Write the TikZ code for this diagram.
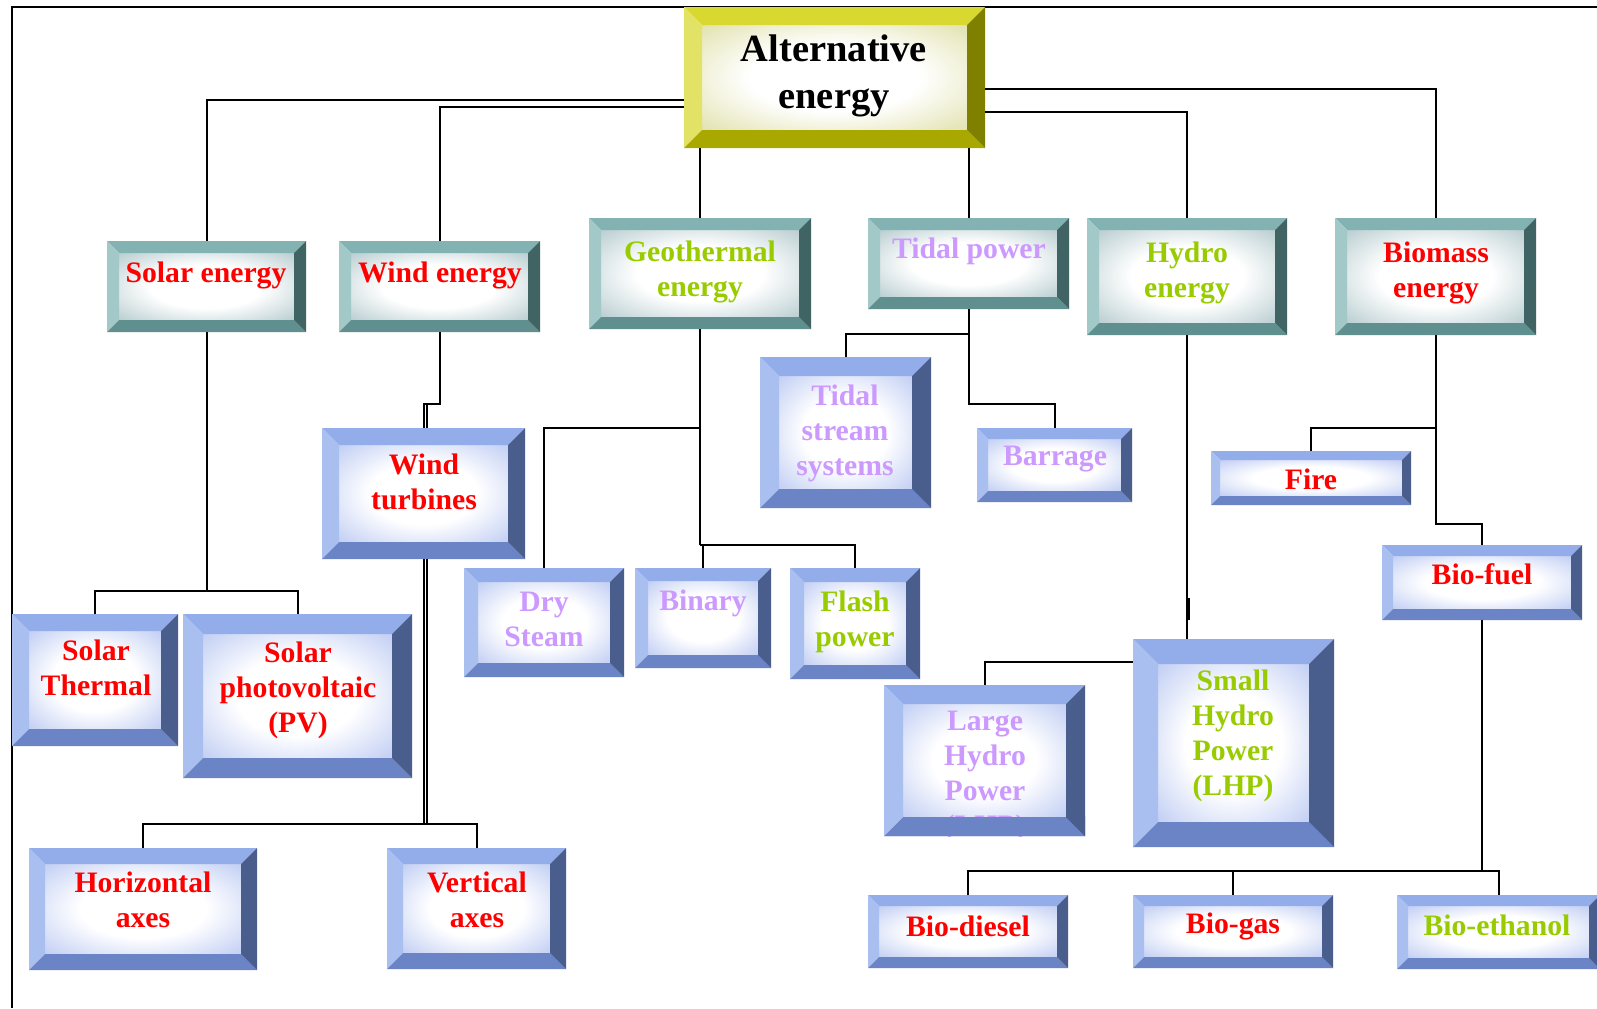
\documentclass[tikz,border=0pt]{standalone}
\usepackage{fontspec}
\setmainfont{Liberation Serif}
\usetikzlibrary{fit,calc}

\definecolor{bTop}{HTML}{93ADEB}
\definecolor{bLeft}{HTML}{A9BFF0}
\definecolor{bBot}{HTML}{6A84C6}
\definecolor{bRight}{HTML}{4A5E8E}
\definecolor{bIn}{HTML}{A0B4EE}
\definecolor{tTop}{HTML}{82B2B2}
\definecolor{tLeft}{HTML}{A3C8C8}
\definecolor{tBot}{HTML}{5F8F8F}
\definecolor{tRight}{HTML}{406464}
\definecolor{tIn}{HTML}{94B3B8}
\definecolor{yTop}{HTML}{D8D830}
\definecolor{yLeft}{HTML}{E2E266}
\definecolor{yBot}{HTML}{A8A800}
\definecolor{yRight}{HTML}{808000}
\definecolor{yIn}{HTML}{D2D284}
\definecolor{txtred}{HTML}{FF0000}
\definecolor{txtlilac}{HTML}{CC99FF}
\definecolor{txtgreen}{HTML}{99CC00}
\colorlet{bevin}{bIn}

\pgfdeclareradialshading[bevin]{softrad}{\pgfpoint{0bp}{0bp}}{color(0bp)=(white); color(16bp)=(white); color(46bp)=(bevin); color(60bp)=(bevin)}

\newcommand\bevpic[5]{%
  \colorlet{bevin}{#5}%
  \coordinate (q1) at (path picture bounding box.north west);
  \coordinate (q2) at (path picture bounding box.north east);
  \coordinate (q3) at (path picture bounding box.south east);
  \coordinate (q4) at (path picture bounding box.south west);
  \coordinate (r1) at ([shift={(\bevw,-\bevw)}]q1);
  \coordinate (r2) at ([shift={(-\bevw,-\bevw)}]q2);
  \coordinate (r3) at ([shift={(-\bevw,\bevw)}]q3);
  \coordinate (r4) at ([shift={(\bevw,\bevw)}]q4);
  \shade[shading=softrad] (r1) rectangle (r3);
  \fill[#1] (q1) -- (q2) -- (r2) -- (r1) -- cycle;
  \fill[#2] (q1) -- (r1) -- (r4) -- (q4) -- cycle;
  \fill[#3] (q4) -- (r4) -- (r3) -- (q3) -- cycle;
  \fill[#4] (q2) -- (q3) -- (r3) -- (r2) -- cycle;
}

\tikzset{
  bevw/.store in=\bevw, bevw=6pt,
  boxbase/.style={inner sep=0pt, outer sep=0pt, fill=white},
  bbox/.style={boxbase, path picture={\bevpic{bTop}{bLeft}{bBot}{bRight}{bIn}}},
  tbox/.style={boxbase, path picture={\bevpic{tTop}{tLeft}{tBot}{tRight}{tIn}}},
  ybox/.style={boxbase, path picture={\bevpic{yTop}{yLeft}{yBot}{yRight}{yIn}}},
  txt/.style={font=\fontsize{14.85}{17.5}\selectfont\bfseries, align=center, inner sep=0pt},
  conn/.style={line width=1pt, black},
}

\begin{document}
\begin{tikzpicture}[x=0.5pt, y=-0.5pt]
\useasboundingbox (0,0) rectangle (1597,1008);
\fill[white] (0,0) rectangle (1597,1008);

% frame
\draw[line width=1pt] (12,1008) -- (12,7) -- (1597,7);

% boxes
\node[ybox, bevw=9pt, fit={(684,7) (985,148)}] (alt) {};
\node[tbox, bevw=6pt, fit={(107,241) (306,332)}] (solar) {};
\node[tbox, bevw=6pt, fit={(339,241) (540,332)}] (wind) {};
\node[tbox, bevw=6pt, fit={(589,218) (811,329)}] (geo) {};
\node[tbox, bevw=6pt, fit={(868,218) (1069,309)}] (tidal) {};
\node[tbox, bevw=6pt, fit={(1087,218) (1287,335)}] (hydro) {};
\node[tbox, bevw=6pt, fit={(1335,218) (1536,335)}] (bio) {};

\node[bbox, bevw=8.5pt, fit={(322,428) (525,559)}] (wt) {};
\node[bbox, bevw=9.5pt, fit={(760,357) (931,508)}] (tss) {};
\node[bbox, bevw=5.5pt, fit={(977,428) (1132,502)}] (bar) {};
\node[bbox, bevw=4.5pt, fit={(1211,451) (1411,505)}] (fire) {};
\node[bbox, bevw=5.5pt, fit={(1382,545) (1582,620)}] (bfuel) {};
\node[bbox, bevw=7pt, fit={(464,568) (624,677)}] (dry) {};
\node[bbox, bevw=6.5pt, fit={(635,568) (771,668)}] (bin) {};
\node[bbox, bevw=7pt, fit={(790,568) (920,679)}] (flash) {};
\node[bbox, bevw=8.5pt, fit={(12,614) (178,746)}] (sth) {};
\node[bbox, bevw=10pt, fit={(183,614) (412,778)}] (spv) {};
\node[bbox, bevw=9.5pt, fit={(884,685) (1085,836)}] (lhp) {};
\node[bbox, bevw=12.5pt, fit={(1133,639) (1334,847)}] (shp) {};
\node[bbox, bevw=8pt, fit={(29,848) (257,970)}] (hax) {};
\node[bbox, bevw=8pt, fit={(387,848) (566,969)}] (vax) {};
\node[bbox, bevw=5.5pt, fit={(868,895) (1068,968)}] (bdie) {};
\node[bbox, bevw=5.5pt, fit={(1133,895) (1333,968)}] (bgas) {};
\node[bbox, bevw=5.5pt, fit={(1397,895) (1600,969)}] (beth) {};

% connectors
\draw[conn] (alt.west |- 0,100) -| (solar.north);
\draw[conn] (alt.west |- 0,107) -| (wind.north);
\draw[conn] (alt.east |- 0,89) -| (bio.north);
\draw[conn] (alt.east |- 0,112) -| (hydro.north);
\draw[conn] (alt.south -| geo.north) -- (geo.north);
\draw[conn] (alt.south -| tidal.north) -- (tidal.north);

\draw[conn] (solar.south) -- (solar.south |- 0,591);
\draw[conn] (sth.north) -- (sth.north |- 0,591) -- (spv.north |- 0,591) -- (spv.north);

\draw[conn] (wind.south) -- (wind.south |- 0,404) -| (wt.north);
\draw[conn] ([xshift=1.5pt]wt.north |- 0,404) -- ([xshift=1.5pt]wt.north);
\draw[conn] (wt.south) -- (wt.south |- 0,824);
\draw[conn] ([xshift=1.5pt]wt.south) -- ([xshift=1.5pt]wt.south |- 0,824);
\draw[conn] (hax.north) -- (hax.north |- 0,824) -- (vax.north |- 0,824) -- (vax.north);

\draw[conn] (geo.south) -- (geo.south |- 0,545);
\draw[conn] (geo.south |- 0,428) -| (dry.north);
\draw[conn] (geo.south |- 0,545) -- (flash.north |- 0,545) -- (flash.north);
\draw[conn] (bin.north) -- (bin.north |- 0,545);

\draw[conn] (tidal.south) -- (tidal.south |- 0,404) -| (bar.north);
\draw[conn] (tidal.south |- 0,334) -| (tss.north);

\draw[conn] (hydro.south) -- (hydro.south |- shp.north);
\draw[conn] ([xshift=1pt]hydro.south |- 0,598) -- ([xshift=1pt]hydro.south |- 0,620);
\draw[conn] (shp.west |- 0,662) -| (lhp.north);

\draw[conn] (bio.south) -- (bio.south |- 0,524) -| (bfuel.north);
\draw[conn] (bio.south |- 0,428) -| (fire.north);
\draw[conn] (bfuel.south) -- (bfuel.south |- 0,871);
\draw[conn] (bdie.north) -- (bdie.north |- 0,871) -- (beth.north |- 0,871) -- (beth.north);
\draw[conn] (bgas.north) -- (bgas.north |- 0,871);

% texts
\node[txt, font=\fontsize{19.25}{23.5}\selectfont\bfseries, text=black] (alt-t) at (834,76) {Alternative\\energy};
\node[txt, text=txtred] (solar-t) at (206,275.5) {Solar energy};
\node[txt, text=txtred] (wind-t) at (440,275.5) {Wind energy};
\node[txt, text=txtgreen] (geo-t) at (700,271.5) {Geothermal\\energy};
\node[txt, text=txtlilac] (tidal-t) at (969,251.5) {Tidal power};
\node[txt, text=txtgreen] (hydro-t) at (1187,272.5) {Hydro\\energy};
\node[txt, text=txtred] (bio-t) at (1436,272.5) {Biomass\\energy};
\node[txt, text=txtred] (wt-t) at (424,482) {Wind\\turbines};
\node[txt, text=txtlilac] (tss-t) at (845,433) {Tidal\\stream\\systems};
\node[txt, text=txtlilac] (bar-t) at (1055,459.5) {Barrage};
\node[txt, text=txtred] (fire-t) at (1311,479) {Fire};
\node[txt, text=txtred] (bfuel-t) at (1482,574) {Bio-fuel};
\node[txt, text=txtlilac] (dry-t) at (544,619) {Dry\\Steam};
\node[txt, text=txtlilac] (bin-t) at (703,603.5) {Binary};
\node[txt, text=txtgreen] (flash-t) at (855,621.5) {Flash\\power};
\node[txt, text=txtred] (sth-t) at (96,667.5) {Solar\\Thermal};
\node[txt, text=txtred] (spv-t) at (298,690.5) {Solar\\photovoltaic\\(PV)};
\begin{scope}
\clip (lhp.north west) rectangle (lhp.south east);
\node[txt, text=txtlilac] (lhp-t) at (985,776) {Large\\Hydro\\Power\\(LHP)};
\end{scope}
\node[txt, text=txtgreen] (shp-t) at (1233,736) {Small\\Hydro\\Power\\(LHP)};
\node[txt, text=txtred] (hax-t) at (143,900) {Horizontal\\axes};
\node[txt, text=txtred] (vax-t) at (477,900) {Vertical\\axes};
\node[txt, text=txtred] (bdie-t) at (968,926) {Bio-diesel};
\node[txt, text=txtred] (bgas-t) at (1233,926) {Bio-gas};
\node[txt, text=txtgreen] (beth-t) at (1497,925) {Bio-ethanol};

% bottom bevel of Large Hydro Power drawn over its clipped last line
\fill[bBot] (lhp.south west) -- ([shift={(9.5pt,9.5pt)}]lhp.south west) -- ([shift={(-9.5pt,9.5pt)}]lhp.south east) -- (lhp.south east) -- cycle;
\fill[bLeft] (lhp.south west) -- ([shift={(9.5pt,9.5pt)}]lhp.south west) -- ([shift={(9.5pt,0pt)}]lhp.west |- 0,816) -- (lhp.west |- 0,816) -- cycle;
\fill[bRight] (lhp.south east) -- ([shift={(-9.5pt,9.5pt)}]lhp.south east) -- ([shift={(-9.5pt,0pt)}]lhp.east |- 0,816) -- (lhp.east |- 0,816) -- cycle;
\end{tikzpicture}
\end{document}
